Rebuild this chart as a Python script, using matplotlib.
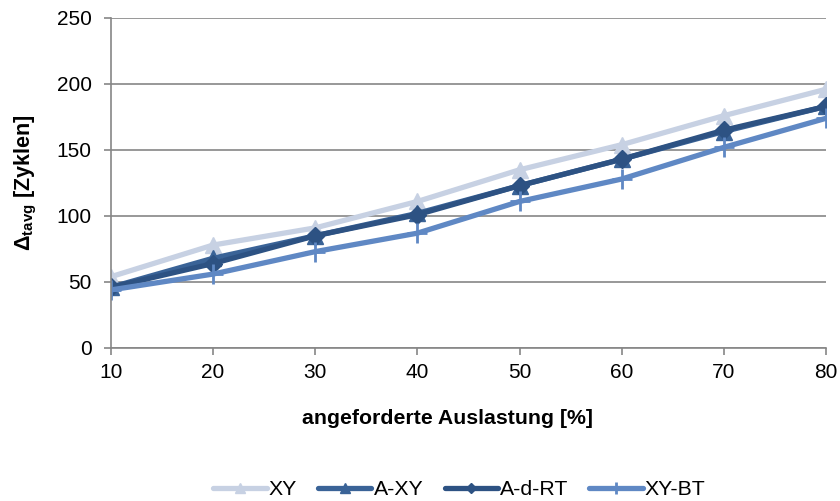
import matplotlib
matplotlib.use("Agg")
import matplotlib.pyplot as plt

plt.rcParams['font.family'] = ['Liberation Sans', 'DejaVu Sans']
plt.rcParams['mathtext.fontset'] = 'custom'
plt.rcParams['mathtext.rm'] = 'Liberation Sans'
plt.rcParams['mathtext.bf'] = 'Liberation Sans:bold'

auslastung = [10, 20, 30, 40, 50, 60, 70, 80]
xy = [54, 78, 91, 111, 135, 154, 176, 196]
a_xy = [46, 68, 85, 102, 123, 143, 164, 183]
a_d_rt = [46, 64, 85, 101, 123, 143, 165, 183]
xy_bt = [44, 56, 73, 87, 111, 128, 152, 174]

series = [
    ("XY", xy, "#C7D1E3", "^", 12),
    ("A-XY", a_xy, "#3A6397", "^", 12),
    ("A-d-RT", a_d_rt, "#2D5283", "D", 9),
    ("XY-BT", xy_bt, "#5F88C4", "+", 14),
]

fig = plt.figure(figsize=(8.4, 5.01), dpi=100)
ax = fig.add_axes([0.1321, 0.3054, 0.8512, 0.6587])

for name, vals, col, mk, ms in series:
    ax.plot(auslastung, vals, color=col, lw=3.8, marker=mk, ms=ms,
            mec=col, mfc=col, mew=2 if mk == "+" else 1,
            solid_capstyle='round', solid_joinstyle='round', label=name)

ax.set_xlim(10, 80)
ax.set_ylim(0, 250)
ax.set_xticks(auslastung)
ax.set_yticks(range(0, 251, 50))
ax.grid(axis='y', color='#868686', lw=1.2)
ax.set_axisbelow(True)
for s in ['top', 'right']:
    ax.spines[s].set_visible(False)
for s in ['left', 'bottom']:
    ax.spines[s].set_color('#868686')
    ax.spines[s].set_linewidth(1.2)
ax.tick_params(axis='both', direction='out', length=5, width=1.2,
               color='#868686', labelsize=15)
ax.tick_params(axis='y', pad=9)
ax.tick_params(axis='x', pad=6)

ax.set_xlabel("angeforderte Auslastung [%]", fontsize=15.3, fontweight='bold')
ax.xaxis.set_label_coords(0.471, -0.185)
ax.set_ylabel(r"$\mathbf{\Delta}_{\mathbf{tavg}}$ [Zyklen]", fontsize=15.5, fontweight='bold')
ax.yaxis.set_label_coords(-0.1, 0.5)

fig.legend(loc='center', bbox_to_anchor=(0.547, 0.022), ncol=4, frameon=False,
           fontsize=15.3, handlelength=2.5, columnspacing=1.0, handletextpad=0.1,
           markerscale=0.6)

fig.savefig("out.png", dpi=100)
